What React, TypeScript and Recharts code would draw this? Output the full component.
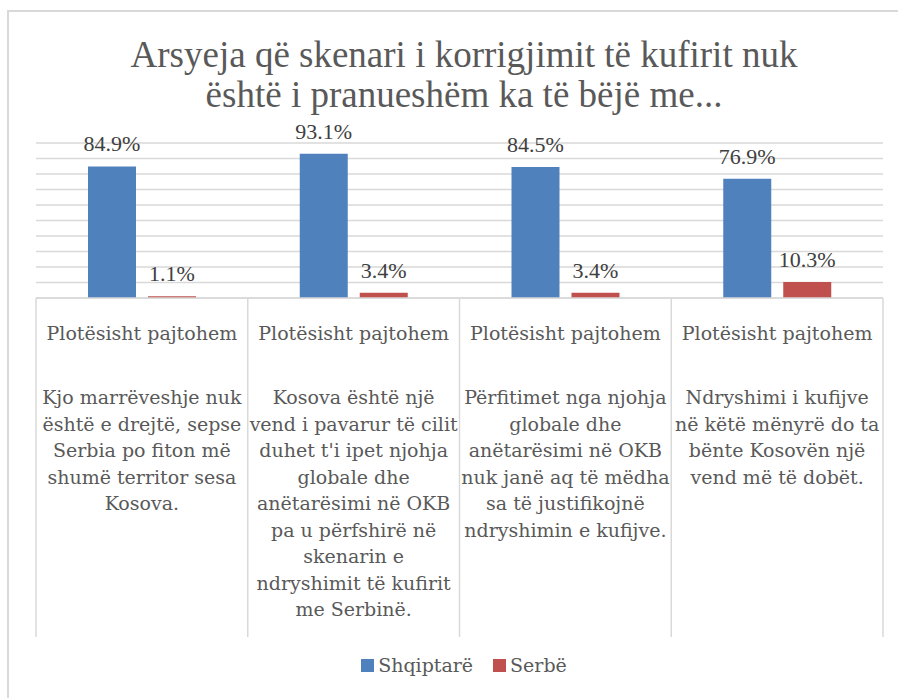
import React from 'react';
import { BarChart, Bar, XAxis, YAxis, CartesianGrid, LabelList, Legend } from 'recharts';

const categories = ['Plotësisht pajtohem', 'Plotësisht pajtohem', 'Plotësisht pajtohem', 'Plotësisht pajtohem'];
const descriptions: string[][] = [
  ['Kjo marrëveshje nuk', 'është e drejtë, sepse', 'Serbia po fiton më', 'shumë territor sesa', 'Kosova.'],
  ['Kosova është një', 'vend i pavarur të cilit', "duhet t'i ipet njohja", 'globale dhe', 'anëtarësimi në OKB', 'pa u përfshirë në', 'skenarin e', 'ndryshimit të kufirit', 'me Serbinë.'],
  ['Përfitimet nga njohja', 'globale dhe', 'anëtarësimi në OKB', 'nuk janë aq të mëdha', 'sa të justifikojnë', 'ndryshimin e kufijve.'],
  ['Ndryshimi i kufijve', 'në këtë mënyrë do ta', 'bënte Kosovën një', 'vend më të dobët.'],
];
const shqiptare = [84.9, 93.1, 84.5, 76.9];
const serbe = [1.1, 3.4, 3.4, 10.3];
const yTicks = [0, 10, 20, 30, 40, 50, 60, 70, 80, 90, 100];
const titleLines = ['Arsyeja që skenari i korrigjimit të kufirit nuk', 'është i pranueshëm ka të bëjë me...'];
const seriesNames = ['Shqiptarë', 'Serbë'];

const data = categories.map((c, i) => ({
  name: c,
  idx: i,
  Shqiptare: shqiptare[i],
  Serbe: serbe[i],
}));

const W = 898;
const H = 698;
const M = { top: 143, right: 15, bottom: 38, left: 36 };
const XAXIS_H = 340;
const SERIF = '"DejaVu Serif", serif';
const LSERIF = '"Liberation Serif", serif';
const GRID = '#d9d9d9';
const TEXT = '#595959';
const BLUE = '#4F81BD';
const RED = '#C0504D';

const CategoryTick = (props: any) => {
  const { x, y, payload } = props;
  const i = payload.index;
  const band = (W - M.left - M.right) / categories.length;
  const lines = descriptions[i] || [];
  return (
    <g>
      {i === 0 && <line x1={x - band / 2} x2={x - band / 2} y1={y} y2={y + 339} stroke={GRID} strokeWidth={1.5} />}
      <line x1={x + band / 2} x2={x + band / 2} y1={y} y2={y + 339} stroke={GRID} strokeWidth={1.5} />
      <text x={x} y={y + 37} textAnchor="middle" dominantBaseline="middle" fontFamily={SERIF} fontSize={19} fill={TEXT}>
        {categories[i]}
      </text>
      {lines.map((l, k) => (
        <text key={k} x={x} y={y + 101 + k * 26.5} textAnchor="middle" dominantBaseline="middle" fontFamily={SERIF} fontSize={19} fill={TEXT}>
          {l}
        </text>
      ))}
    </g>
  );
};

const LegendContent = () => (
  <div style={{ display: 'flex', justifyContent: 'center', alignItems: 'center', fontFamily: SERIF, fontSize: 19, color: TEXT, paddingLeft: 30 }}>
    {seriesNames.map((n, i) => (
      <div key={n} style={{ display: 'flex', alignItems: 'center', marginRight: i === 0 ? 20 : 0 }}>
        <div style={{ width: 13, height: 13, background: i === 0 ? BLUE : RED, marginRight: 4 }} />
        <span>{n}</span>
      </div>
    ))}
  </div>
);

export default function App() {
  return (
    <div style={{ position: 'absolute', left: 0, top: 0, width: W, height: H, background: '#fff', overflow: 'hidden' }}>
      <div style={{ position: 'absolute', left: 7, top: 10, width: W - 7, height: H - 10, borderLeft: `2px solid ${GRID}`, borderTop: `2px solid ${GRID}`, boxSizing: 'border-box' }} />
      <div style={{ position: 'absolute', left: 30, top: 35, width: 868, textAlign: 'center', fontFamily: LSERIF, fontSize: 37, color: TEXT, lineHeight: '40px' }}>
        {titleLines.map((t, i) => (<div key={i}>{t}</div>))}
      </div>
      <div style={{ position: 'absolute', left: 0, top: 0 }}>
        <BarChart width={W} height={H} data={data} margin={M} barSize={48} barGap={12}>
          <CartesianGrid horizontal vertical={false} stroke={GRID} strokeWidth={1.5} />
          <YAxis hide domain={[0, 100]} ticks={yTicks} tickCount={11} interval={0} width={0} />
          <XAxis
            dataKey="idx"
            height={XAXIS_H}
            tickLine={false}
            tickSize={0}
            tickMargin={0}
            axisLine={{ stroke: GRID, strokeWidth: 1.5 }}
            tick={<CategoryTick />}
            interval={0}
          />
          <Legend verticalAlign="bottom" wrapperStyle={{ top: 654, left: 0, width: W }} content={<LegendContent />} />
          <Bar dataKey="Shqiptare" name={seriesNames[0]} fill={BLUE} isAnimationActive={false}>
            <LabelList dataKey="Shqiptare" position="top" offset={15} formatter={(v: any) => `${v}%`} fontFamily={LSERIF} fontSize={22} fill="#404040" />
          </Bar>
          <Bar dataKey="Serbe" name={seriesNames[1]} fill={RED} isAnimationActive={false}>
            <LabelList dataKey="Serbe" position="top" offset={15} formatter={(v: any) => `${v}%`} fontFamily={LSERIF} fontSize={22} fill="#404040" />
          </Bar>
        </BarChart>
      </div>
    </div>
  );
}
